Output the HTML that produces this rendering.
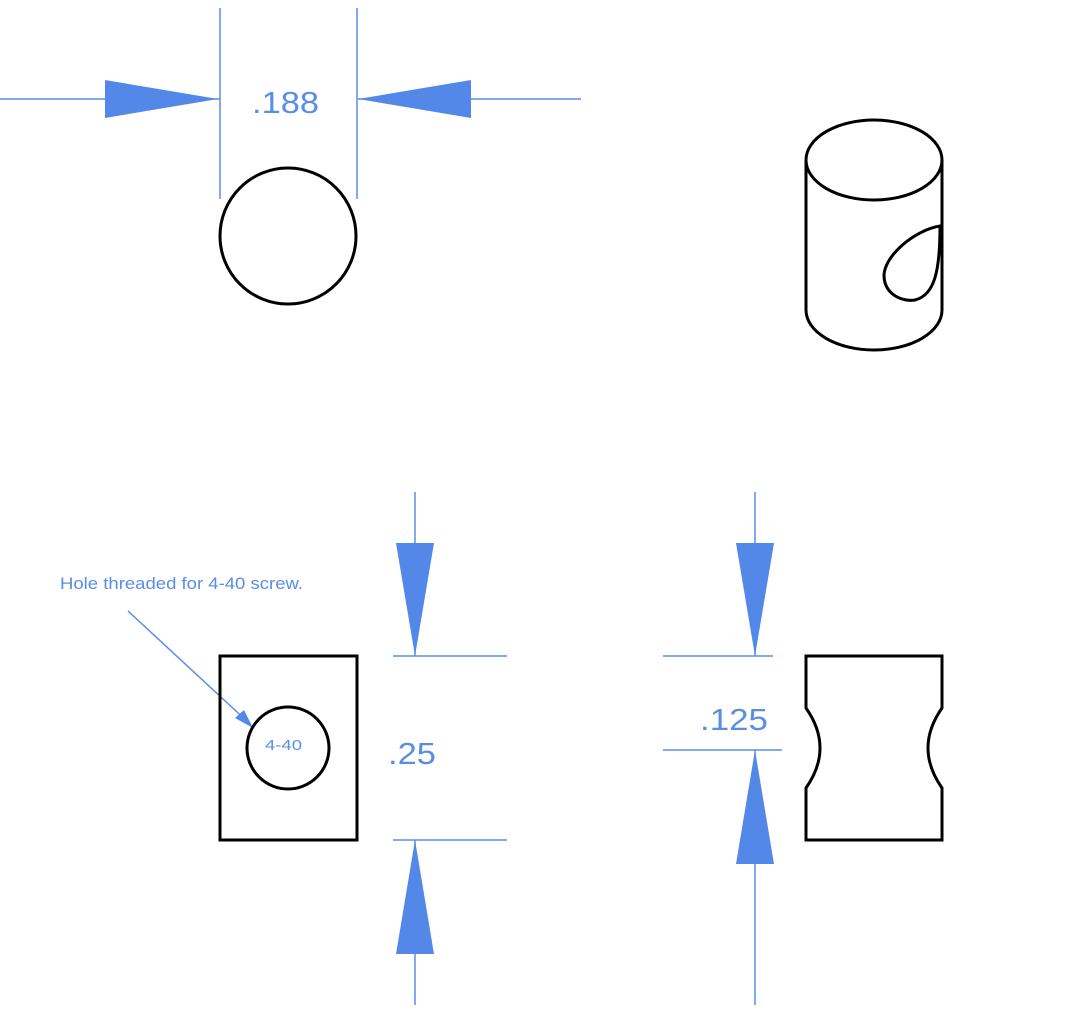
<!DOCTYPE html>
<html><head><style>html,body{margin:0;padding:0;background:#fff;width:1068px;height:1013px;overflow:hidden}</style></head>
<body>
<svg width="1068" height="1013" xmlns="http://www.w3.org/2000/svg" font-family="Liberation Sans, sans-serif">
<g stroke="#5a8de6" stroke-width="1.5" fill="none">
<line x1="0" y1="99" x2="220" y2="99"/>
<line x1="358" y1="99" x2="581" y2="99"/>
<line x1="220" y1="8" x2="220" y2="199"/>
<line x1="357" y1="8" x2="357" y2="199"/>
<line x1="415" y1="492" x2="415" y2="656"/>
<line x1="415" y1="840" x2="415" y2="1005"/>
<line x1="393" y1="656" x2="507" y2="656"/>
<line x1="393" y1="840" x2="507" y2="840"/>
<line x1="755" y1="492" x2="755" y2="656"/>
<line x1="755" y1="750" x2="755" y2="1005"/>
<line x1="663" y1="656" x2="773" y2="656"/>
<line x1="663" y1="750" x2="782" y2="750"/>
<line x1="128" y1="611" x2="250" y2="724"/>
</g>
<g fill="#5488e8">
<polygon points="105,80 105,118 218,99"/>
<polygon points="471,80 471,118 358,99"/>
<polygon points="396,543 434,543 415,656"/>
<polygon points="396,954 434,954 415,840"/>
<polygon points="736,543 774,543 755,656"/>
<polygon points="736,864 774,864 755,750"/>
<polygon points="253,728 235,718 244,710"/>
</g>
<g fill="#5a8de6">
<text x="252" y="113" font-size="31" textLength="67" lengthAdjust="spacingAndGlyphs">.188</text>
<text x="388" y="764" font-size="31" textLength="48" lengthAdjust="spacingAndGlyphs">.25</text>
<text x="700" y="730" font-size="31" textLength="68" lengthAdjust="spacingAndGlyphs">.125</text>
<text x="60" y="589" font-size="17" textLength="243" lengthAdjust="spacingAndGlyphs">Hole threaded for 4-40 screw.</text>
<text x="265" y="750" font-size="15" textLength="37" lengthAdjust="spacingAndGlyphs">4-40</text>
</g>
<g stroke="#000" stroke-width="3" fill="none">
<circle cx="288" cy="236" r="68"/>
<rect x="220" y="656" width="137" height="184"/>
<circle cx="288" cy="748" r="41"/>
<path d="M806 656 H942 V708 Q928 728 928 748 Q928 768 942 788 V840 H806 V788 Q820 768 820 748 Q820 728 806 708 Z"/>
<ellipse cx="874" cy="160" rx="68" ry="40"/>
<path d="M806 160 V310 A68 40 0 0 0 942 310 V160"/>
<path d="M940 226 C915 230 885 255 884 275 C884 295 903 302 915 300 C935 295 940 270 940 226 Z"/>
</g>
</svg>
</body></html>
